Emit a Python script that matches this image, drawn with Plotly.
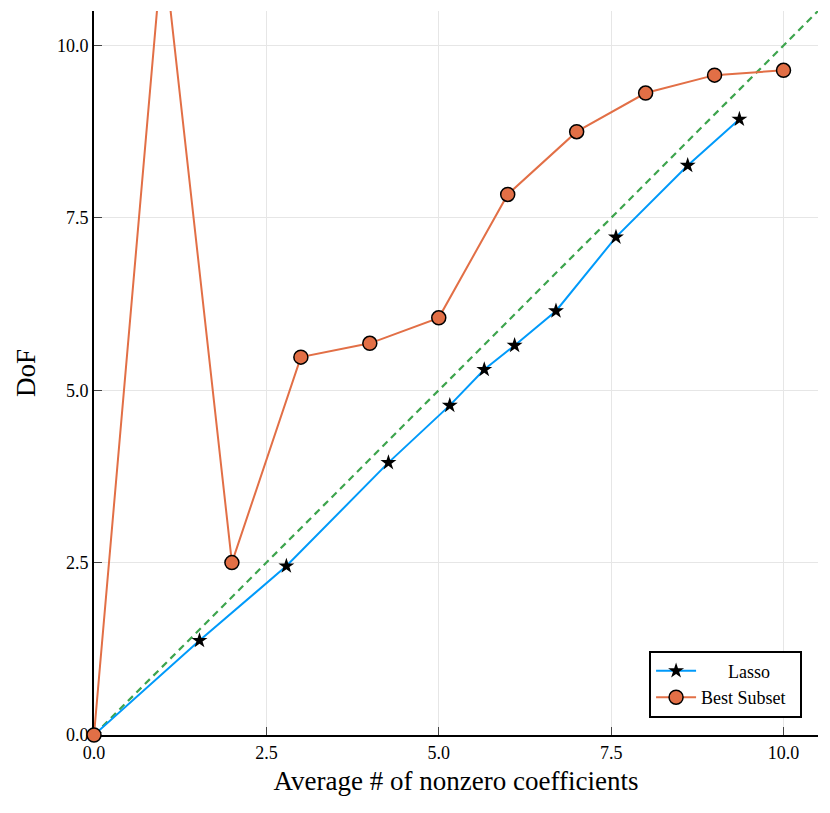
import plotly.graph_objects as go

# Data
lasso_x = [0.0, 1.53, 2.79, 4.27, 5.16, 5.66, 6.10, 6.70, 7.57, 8.61, 9.36]
lasso_y = [0.0, 1.37, 2.45, 3.95, 4.78, 5.30, 5.65, 6.15, 7.22, 8.26, 8.93]
best_x = [0, 1, 2, 3, 4, 5, 6, 7, 8, 9, 10]
best_y = [0.0, 11.5, 2.50, 5.48, 5.68, 6.05, 7.84, 8.75, 9.31, 9.57, 9.64]
ref_x = [0.0, 11.0]
ref_y = [0.0, 11.0]
tick_vals = [0.0, 2.5, 5.0, 7.5, 10.0]
tick_text = ["0.0", "2.5", "5.0", "7.5", "10.0"]

FONT = "Liberation Serif"
BLUE = "#009AFA"
ORANGE = "#E26F46"
GREEN = "#3DA44D"

fig = go.Figure()
fig.add_trace(go.Scatter(
    x=ref_x, y=ref_y, mode="lines", showlegend=False,
    line=dict(color=GREEN, width=2.2, dash="7px,5px"),
))
fig.add_trace(go.Scatter(
    x=lasso_x, y=lasso_y, mode="lines+markers",
    name="\u00a0\u00a0\u00a0\u00a0\u00a0\u00a0Lasso",
    line=dict(color=BLUE, width=2),
    marker=dict(symbol="star", size=12, color="black", line=dict(width=0)),
))
fig.add_trace(go.Scatter(
    x=best_x, y=best_y, mode="lines+markers", name="Best Subset\u00a0\u00a0",
    line=dict(color=ORANGE, width=2),
    marker=dict(symbol="circle", size=14, color=ORANGE, line=dict(color="black", width=1.5)),
    cliponaxis=False,
))

axis_common = dict(
    range=[0, 10.5], tickvals=tick_vals, ticktext=tick_text,
    showgrid=True, gridcolor="#e6e6e6", gridwidth=1,
    showline=True, linecolor="black", linewidth=2,
    ticks="inside", ticklen=8, tickcolor="#444444", tickwidth=1,
    tickfont=dict(family=FONT, size=18, color="black"),
    zeroline=False, layer="below traces",
)

fig.update_layout(
    width=830, height=813,
    margin=dict(l=86, r=20, t=3, b=86),
    plot_bgcolor="white", paper_bgcolor="white",
    font=dict(family=FONT, color="black"),
    xaxis=dict(**axis_common, title=dict(text="Average # of nonzero coefficients",
                                         font=dict(family=FONT, size=27), standoff=10)),
    yaxis=dict(**axis_common, title=dict(text="DoF", font=dict(family=FONT, size=27), standoff=13)),
    legend=dict(
        x=0.978, y=0.024, xanchor="right", yanchor="bottom",
        bgcolor="white", bordercolor="black", borderwidth=2,
        font=dict(family=FONT, size=18), tracegroupgap=0, itemwidth=40,
    ),
    showlegend=True,
)

fig.write_html("out.html")
